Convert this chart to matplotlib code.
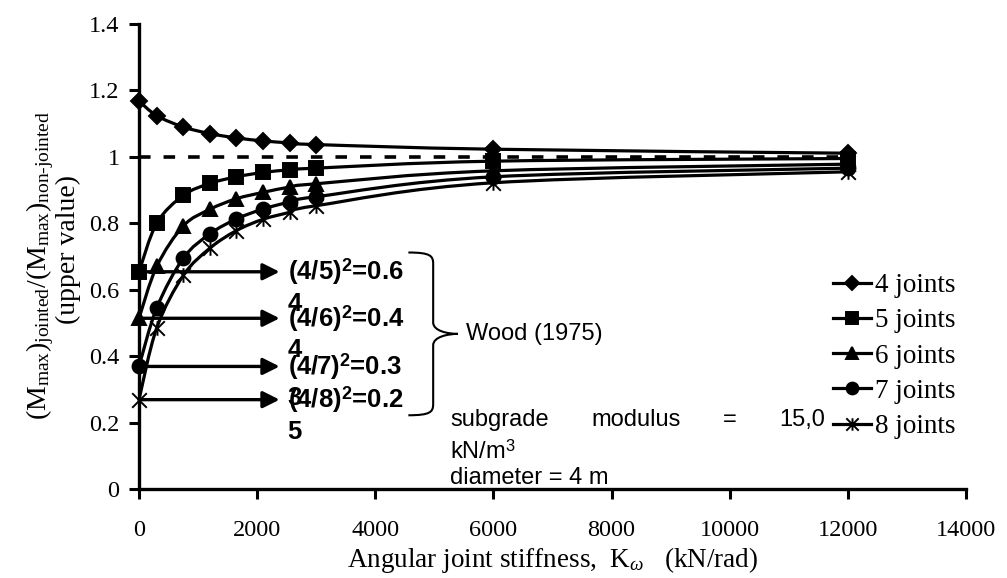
import matplotlib
matplotlib.use("Agg")
import matplotlib.pyplot as plt
from matplotlib.path import Path
from matplotlib.patches import PathPatch
from matplotlib.lines import Line2D
from matplotlib.transforms import offset_copy
import numpy as np

plt.rcParams['font.family'] = ['Liberation Serif', 'DejaVu Serif']
plt.rcParams['mathtext.fontset'] = 'custom'
plt.rcParams['mathtext.rm'] = 'Liberation Serif'
plt.rcParams['mathtext.it'] = 'Liberation Serif:italic'
plt.rcParams['mathtext.bf'] = 'Liberation Sans:bold'
plt.rcParams['mathtext.sf'] = 'Liberation Sans'

# angular joint stiffness (kN/rad)
stiffness = [0, 300, 750, 1200, 1650, 2100, 2550, 3000, 6000, 12000]

# (Mmax)jointed / (Mmax)non-jointed, upper value
joints_4 = [1.168, 1.124, 1.090, 1.070, 1.057, 1.048, 1.042, 1.037, 1.023, 1.011]
joints_5 = [0.654, 0.800, 0.884, 0.920, 0.940, 0.953, 0.961, 0.966, 0.987, 0.995]
joints_6 = [0.514, 0.670, 0.792, 0.842, 0.874, 0.893, 0.909, 0.919, 0.958, 0.978]
joints_7 = [0.369, 0.545, 0.695, 0.768, 0.813, 0.843, 0.864, 0.880, 0.940, 0.966]
joints_8 = [0.269, 0.485, 0.643, 0.725, 0.778, 0.812, 0.833, 0.853, 0.922, 0.955]

series_labels = ['4 joints', '5 joints', '6 joints', '7 joints', '8 joints']
series_values = [joints_4, joints_5, joints_6, joints_7, joints_8]

# non-jointed reference level
reference_x = [0, 12000]
reference_y = [1.0, 1.0]

# Wood (1975): (4/n)^2 for n = 5..8, labels wrap onto a second line
wood_labels = [r'(4/5)$^{\mathbf{2}}$=0.6', r'(4/6)$^{\mathbf{2}}$=0.4',
               r'(4/7)$^{\mathbf{2}}$=0.3', r'(4/8)$^{\mathbf{2}}$=0.2']
wood_wrap = ['4', '4', '3', '5']

x_ticks = [0, 2000, 4000, 6000, 8000, 10000, 12000, 14000]
y_ticks = [0, 0.2, 0.4, 0.6, 0.8, 1.0, 1.2, 1.4]
y_tick_labels = ['0', '0.2', '0.4', '0.6', '0.8', '1', '1.2', '1.4']

# asterisk marker: vertical stroke plus two diagonals
asterisk = Path([(0, -1), (0, 1), (-1, -1), (1, 1), (-1, 1), (1, -1)],
                [Path.MOVETO, Path.LINETO, Path.MOVETO, Path.LINETO,
                 Path.MOVETO, Path.LINETO])
series_markers = ['D', 's', '^', 'o', asterisk]
series_msize = [8, 9.5, 10, 10, 10.5]


def smooth_path(xs, ys):
    """Bezier curve through the points, in the style of a smoothed line."""
    pts = np.column_stack([xs, ys]).astype(float)
    n = len(pts)
    verts = [pts[0]]
    codes = [Path.MOVETO]
    for i in range(n - 1):
        p_prev = pts[i - 1] if i > 0 else pts[i]
        p_next2 = pts[i + 2] if i + 2 < n else pts[i + 1]
        c1 = pts[i] + (pts[i + 1] - p_prev) / 6.0
        c2 = pts[i + 1] - (p_next2 - pts[i]) / 6.0
        verts += [c1, c2, pts[i + 1]]
        codes += [Path.CURVE4] * 3
    return Path(verts, codes)


def brace_path(x_left, x_spine, x_tip, y_top, y_bot):
    """Right-facing curly brace between y_top and y_bot."""
    y_mid = (y_top + y_bot) / 2
    h = (y_top - y_bot)
    c = h * 0.07
    verts = [
        (x_left, y_top),
        (x_spine - (x_spine - x_left) * 0.1, y_top), (x_spine, y_top - c * 0.3), (x_spine, y_top - c),
        (x_spine, y_mid + c),
        (x_spine, y_mid + c * 0.25), (x_tip - (x_tip - x_spine) * 0.4, y_mid), (x_tip, y_mid),
        (x_tip - (x_tip - x_spine) * 0.4, y_mid), (x_spine, y_mid - c * 0.25), (x_spine, y_mid - c),
        (x_spine, y_bot + c),
        (x_spine, y_bot + c * 0.3), (x_spine - (x_spine - x_left) * 0.1, y_bot), (x_left, y_bot),
    ]
    codes = [Path.MOVETO,
             Path.CURVE4, Path.CURVE4, Path.CURVE4,
             Path.LINETO,
             Path.CURVE4, Path.CURVE4, Path.CURVE4,
             Path.CURVE4, Path.CURVE4, Path.CURVE4,
             Path.LINETO,
             Path.CURVE4, Path.CURVE4, Path.CURVE4]
    return Path(verts, codes)


W, H = 1007, 578
fig = plt.figure(figsize=(W / 100, H / 100), dpi=100)

ax_left, ax_right, ax_top, ax_bottom = 139, 966, 24, 489
ax = fig.add_axes([ax_left / W, (H - ax_bottom) / H,
                   (ax_right - ax_left) / W, (ax_bottom - ax_top) / H])
ax.patch.set_alpha(0)

ax.set_xlim(0, 14000)
ax.set_ylim(0, 1.4)

for side in ['top', 'right']:
    ax.spines[side].set_visible(False)
for side in ['left', 'bottom']:
    ax.spines[side].set_linewidth(2.4)

ax.set_xticks(x_ticks)
ax.set_xticklabels([str(t) for t in x_ticks])
ax.set_yticks(y_ticks)
ax.set_yticklabels(y_tick_labels)
ax.tick_params(axis='both', direction='out', length=7, width=2.2, labelsize=17.5)
ax.tick_params(axis='x', pad=15)
ax.tick_params(axis='y', pad=7)

# non-jointed level
ax.plot(reference_x, reference_y, color='black', lw=2.6, dashes=(3.2, 3.6), zorder=2)

handles = []
for vals, lab, mk, ms in zip(series_values, series_labels, series_markers, series_msize):
    ax.add_patch(PathPatch(smooth_path(stiffness, vals), facecolor='none',
                           edgecolor='black', lw=2.3, zorder=3, clip_on=False))
    ax.plot(stiffness, vals, linestyle='none', marker=mk, ms=ms, color='black',
            mec='black', mew=1.4, zorder=4, clip_on=False)
    handles.append(Line2D([0], [0], color='black', lw=2.3, marker=mk,
                          ms=ms * 0.85, mew=1.4, label=lab))

# Wood (1975) arrows from the zero-stiffness values of the 5-8 joint series
wood_start = [vals[0] for vals in series_values[1:]]
for v, lab, wrap in zip(wood_start, wood_labels, wood_wrap):
    ax.annotate('', xy=(2380, v), xytext=(0, v),
                arrowprops=dict(arrowstyle='-|>', lw=2.4, color='black',
                                mutation_scale=25, shrinkA=0, shrinkB=0),
                zorder=5)
    ax.text(2515, v, lab, family='Liberation Sans', fontweight='bold',
            fontsize=18.5, ha='left', va='center', zorder=6)
    ax.text(2515, v, wrap, family='Liberation Sans', fontweight='bold',
            fontsize=18.5, ha='left', va='center', zorder=6,
            transform=offset_copy(ax.transData, fig=fig, x=0, y=-23, units='points'))

ax.add_patch(PathPatch(brace_path(4560, 4980, 5400, 0.712, 0.222), facecolor='none',
                       edgecolor='black', lw=1.5, zorder=5, clip_on=False))
ax.text(5540, 0.468, 'Wood (1975)', family='Liberation Sans', fontsize=17,
        ha='left', va='center')

# justified note text
note_words = ['subgrade', 'modulus', '=', '15,0']
note_left, note_right, note_y = 5265, 11620, 0.207
word_texts = [ax.text(note_left, note_y, w, family='Liberation Sans', fontsize=17,
                      ha='left', va='center') for w in note_words]
renderer = fig.canvas.get_renderer()
px_per_unit = ax.transData.transform((1, 0))[0] - ax.transData.transform((0, 0))[0]
widths = [t.get_window_extent(renderer).width / px_per_unit for t in word_texts]
gap = (note_right - note_left - sum(widths)) / (len(note_words) - 1)
xpos = note_left
for t, w in zip(word_texts, widths):
    t.set_x(xpos)
    xpos += w + gap

ax.text(note_left, 0.112, r'kN/m$^{\mathsf{3}}$', family='Liberation Sans',
        fontsize=17, ha='left', va='center')
ax.text(note_left, 0.034, 'diameter = 4 m', family='Liberation Sans',
        fontsize=17, ha='left', va='center')

ax.legend(handles=handles, loc='upper left',
          bbox_to_anchor=(833 / W, 1 - 273 / H),
          bbox_transform=fig.transFigure, frameon=False, fontsize=19.5,
          handlelength=1.4, handletextpad=0.15, labelspacing=0.38,
          borderaxespad=0, borderpad=0)

ax.set_xlabel(r'Angular joint stiffness,  K$_{\omega}$   (kN/rad)', fontsize=19.5, labelpad=3)

fig.text(40 / W, 1 - 265 / H,
         r'(M$_{\mathrm{max}}$)$_{\mathrm{jointed}}$/(M$_{\mathrm{max}}$)$_{\text{non-jointed}}$',
         rotation=90, ha='center', va='center', fontsize=20)
fig.text(68 / W, 1 - 250 / H, '(upper value)',
         rotation=90, ha='center', va='center', fontsize=20)

fig.savefig('out.png', dpi=100)
